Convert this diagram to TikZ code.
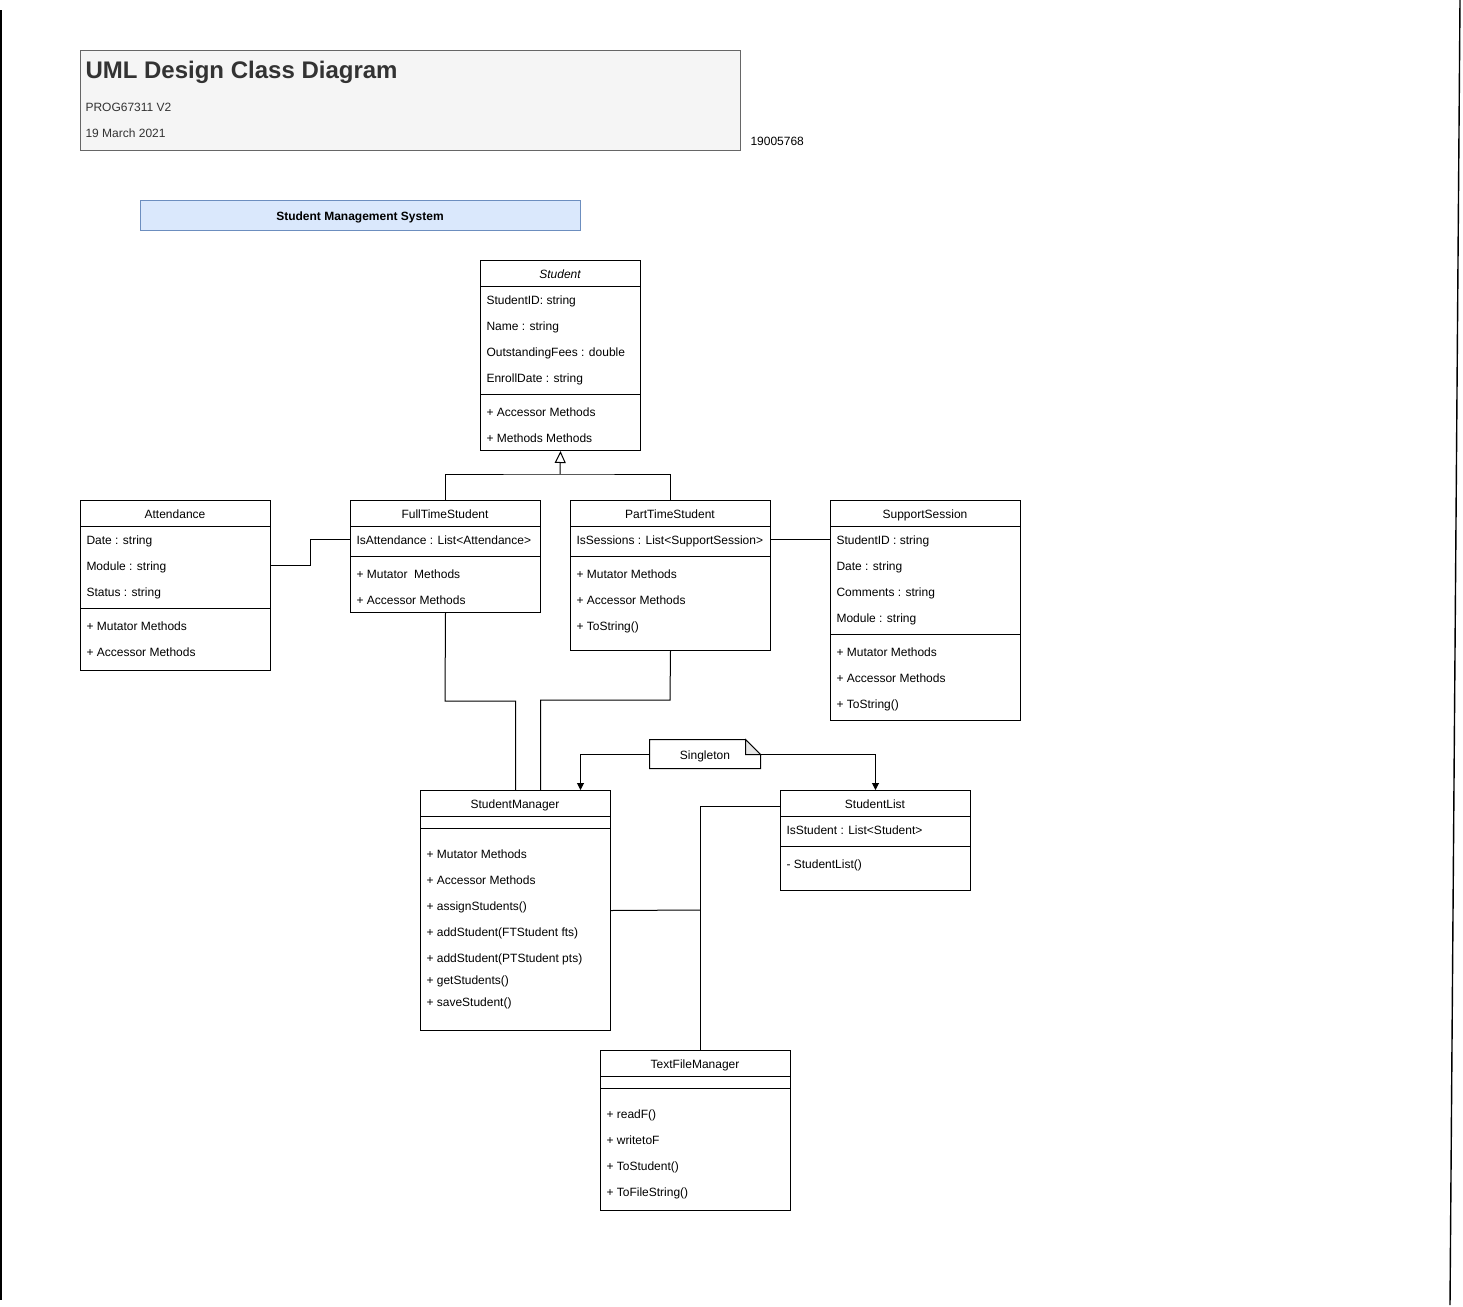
\documentclass[tikz,border=0pt]{standalone}
\usepackage{fontspec}
\setmainfont{Liberation Sans}
\usepackage{tikz}
\usetikzlibrary{arrows.meta}
\definecolor{titlefill}{HTML}{F5F5F5}
\definecolor{titledraw}{HTML}{666666}
\definecolor{titletext}{HTML}{333333}
\definecolor{sysfill}{HTML}{DAE8FC}
\definecolor{sysdraw}{HTML}{6C8EBF}
\definecolor{foldfill}{HTML}{E6E6E6}
\newcommand{\membfont}{\fontsize{6pt}{7pt}\selectfont}
\newcommand{\bigtitlefont}{\fontsize{12pt}{14pt}\selectfont\bfseries}
\tikzset{
    classbox/.style={draw=black, fill=white, anchor=north west, inner sep=0pt},
    header/.style={inner sep=0pt, font=\membfont, text height=6.3pt, text depth=1.3pt},
    member/.style={anchor=west, inner sep=0pt, font=\membfont, text height=6.3pt, text depth=1.3pt},
    assoc/.style={draw=black},
    inherit/.style={draw=black, -{Triangle[open, length=6pt, width=5.5pt]}},
    depend/.style={draw=black, -{Triangle[length=3.5pt, width=3.5pt]}}
}

\begin{document}
\begin{tikzpicture}[x=0.5pt, y=-0.5pt, line width=0.5pt]
\useasboundingbox (0,0) rectangle (1463,1307);
% page edges
\draw[line width=1pt] (1,10) -- (1,1300);
\draw[line width=0.7pt] (1460,0) -- (1450,1305);

% title block
\node[classbox, fill=titlefill, draw=titledraw, minimum width=330pt, minimum height=50pt] (titlebox) at (80,50) {};
\node[anchor=west, inner sep=0pt, font=\bigtitlefont, text=titletext, text height=11pt, text depth=2.5pt] (title) at (85,70) {UML Design Class Diagram};
\node[member, text=titletext] (course) at (85,106) {PROG67311 V2};
\node[member, text=titletext] (date) at (85,132) {19 March 2021};
\node[member] (studno) at (750,140) {19005768};

\node[draw=sysdraw, fill=sysfill, minimum width=220pt, minimum height=15pt, inner sep=0pt, font=\membfont\bfseries, text height=6.3pt, text depth=1.3pt] (system) at (360,215) {Student Management System};

% Student
\node[classbox, minimum width=80pt, minimum height=95pt] (student) at (480,260) {};
\node[header] (studentT) at (560,273) {\itshape Student};
\draw (480,286) -- (640,286);
\draw (480,394) -- (640,394);
\node[member] (st1) at (486,299) {StudentID: string};
\node[member] (st2) at (486,325) {Name : string};
\node[member] (st3) at (486,351) {OutstandingFees : double};
\node[member] (st4) at (486,377) {EnrollDate : string};
\node[member] (st5) at (486,411) {+ Accessor Methods};
\node[member] (st6) at (486,437) {+ Methods Methods};

% Attendance
\node[classbox, minimum width=95pt, minimum height=85pt] (attendance) at (80,500) {};
\node[header] (attT) at (175,513) {Attendance};
\draw (80,526) -- (270,526);
\draw (80,608) -- (270,608);
\node[member] (att1) at (86,539) {Date : string};
\node[member] (att2) at (86,565) {Module : string};
\node[member] (att3) at (86,591) {Status : string};
\node[member] (att4) at (86,625) {+ Mutator Methods};
\node[member] (att5) at (86,651) {+ Accessor Methods};

% FullTimeStudent
\node[classbox, minimum width=95pt, minimum height=56pt] (fulltime) at (350,500) {};
\node[header] (ftT) at (445,513) {FullTimeStudent};
\draw (350,526) -- (540,526);
\draw (350,556) -- (540,556);
\node[member] (ft1) at (356,539) {IsAttendance : List<Attendance>};
\node[member] (ft2) at (356,573) {+ Mutator\ \ Methods};
\node[member] (ft3) at (356,599) {+ Accessor Methods};

% PartTimeStudent
\node[classbox, minimum width=100pt, minimum height=75pt] (parttime) at (570,500) {};
\node[header] (ptT) at (670,513) {PartTimeStudent};
\draw (570,526) -- (770,526);
\draw (570,556) -- (770,556);
\node[member] (pt1) at (576,539) {IsSessions : List<SupportSession>};
\node[member] (pt2) at (576,573) {+ Mutator Methods};
\node[member] (pt3) at (576,599) {+ Accessor Methods};
\node[member] (pt4) at (576,625) {+ ToString()};

% SupportSession
\node[classbox, minimum width=95pt, minimum height=110pt] (support) at (830,500) {};
\node[header] (ssT) at (925,513) {SupportSession};
\draw (830,526) -- (1020,526);
\draw (830,634) -- (1020,634);
\node[member] (ss1) at (836,539) {StudentID : string};
\node[member] (ss2) at (836,565) {Date : string};
\node[member] (ss3) at (836,591) {Comments : string};
\node[member] (ss4) at (836,617) {Module : string};
\node[member] (ss5) at (836,651) {+ Mutator Methods};
\node[member] (ss6) at (836,677) {+ Accessor Methods};
\node[member] (ss7) at (836,703) {+ ToString()};

% StudentManager
\node[classbox, minimum width=95pt, minimum height=120pt] (manager) at (420,790) {};
\node[header] (smT) at (515,803) {StudentManager};
\draw (420,816) -- (610,816);
\draw (420,828) -- (610,828);
\node[member] (sm1) at (426,853) {+ Mutator Methods};
\node[member] (sm2) at (426,879) {+ Accessor Methods};
\node[member] (sm3) at (426,905) {+ assignStudents()};
\node[member] (sm4) at (426,931) {+ addStudent(FTStudent fts)};
\node[member] (sm5) at (426,957) {+ addStudent(PTStudent pts)};
\node[member] (sm6) at (426,979) {+ getStudents()};
\node[member] (sm7) at (426,1001) {+ saveStudent()};

% StudentList
\node[classbox, minimum width=95pt, minimum height=50pt] (studentlist) at (780,790) {};
\node[header] (slT) at (875,803) {StudentList};
\draw (780,816) -- (970,816);
\draw (780,846) -- (970,846);
\node[member] (sl1) at (786,829) {IsStudent : List<Student>};
\node[member] (sl2) at (786,863) {- StudentList()};

% TextFileManager
\node[classbox, minimum width=95pt, minimum height=80pt] (textfile) at (600,1050) {};
\node[header] (tfT) at (695,1063) {TextFileManager};
\draw (600,1076) -- (790,1076);
\draw (600,1088) -- (790,1088);
\node[member] (tf1) at (606,1113) {+ readF()};
\node[member] (tf2) at (606,1139) {+ writetoF};
\node[member] (tf3) at (606,1165) {+ ToStudent()};
\node[member] (tf4) at (606,1191) {+ ToFileString()};

% Singleton note
\node[header, minimum width=55pt, minimum height=14pt] (note) at (705,754) {Singleton};
\draw (note.north west) -- ([xshift=-7.5pt]note.north east) -- ([yshift=-7.5pt]note.north east)
  -- (note.south east) -- (note.south west) -- cycle;
\draw[fill=foldfill] ([xshift=-7.5pt]note.north east) -- ([xshift=-7.5pt,yshift=-7.5pt]note.north east)
  -- ([yshift=-7.5pt]note.north east) -- cycle;

% connectors
\coordinate (gen) at (560,474);
\draw[assoc] (fulltime.north) |- (gen) -| (parttime.north);
\draw[inherit] (gen) -- (student.south);
\draw[assoc] (attendance.east |- att2) -- (310,565) |- (fulltime.west |- ft1);
\draw[assoc] (parttime.east |- pt1) -- (support.west |- pt1);
\draw[assoc] (fulltime.south) -- (445,701) -| (manager.north);
\draw[assoc] (parttime.south) -- (670,700) -| ([xshift=12.5pt]manager.north);
\draw[depend] (note.west) -| ([xshift=32.5pt]manager.north);
\draw[depend] (note.east) -| (studentlist.north);
\coordinate (join) at (700,910);
\draw[assoc] (manager.east) -- (join);
\draw[assoc] ([yshift=17pt]studentlist.west) -| ([xshift=2.5pt]textfile.north);
\end{tikzpicture}
\end{document}
